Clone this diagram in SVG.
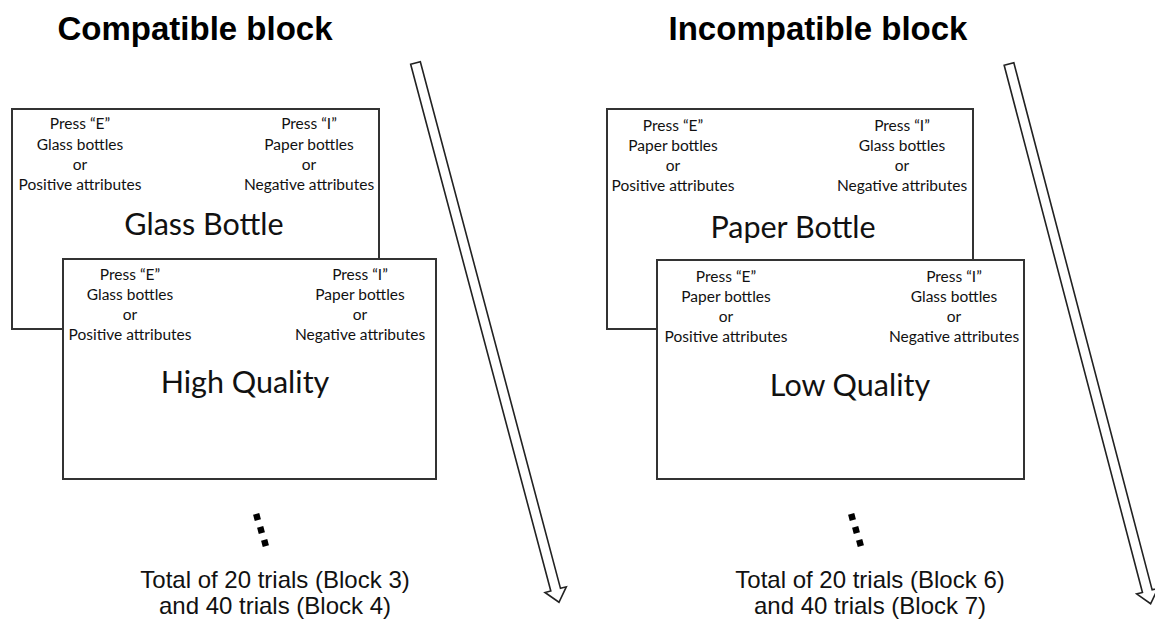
<svg xmlns="http://www.w3.org/2000/svg" width="1155" height="623" viewBox="0 0 1155 623">
  <style>
    .title { font-family: "Liberation Sans", Arial, sans-serif; font-weight: bold; font-size: 33px; fill: #000; text-anchor: middle; }
    .card { fill: #fff; stroke: #333; stroke-width: 2; }
    .key { font-family: "Lato", "Noto Sans", sans-serif; font-size: 15.5px; fill: #111; text-anchor: middle; }
    .stim { font-family: "Lato", "Noto Sans", sans-serif; font-size: 30.5px; fill: #111; text-anchor: middle; }
    .note { font-family: "Liberation Sans", Arial, sans-serif; font-size: 24px; fill: #111; text-anchor: middle; }
    .arrow { fill: #fff; stroke: #222; stroke-width: 1.6; stroke-linejoin: miter; }
    .dot { fill: #000; }
  </style>
  <defs>
    <!-- long hollow arrow pointing along +y -->
    <polygon id="timeArrow" points="-5,0 5,0 5,545 11,545 0,558 -11,545 -5,545"/>
    <rect id="dot" x="-3.2" y="-3.2" width="6.4" height="6.4"/>
  </defs>

  <rect width="1155" height="623" fill="#fff"/>

  <!-- Compatible block -->
  <g id="compatible">
    <text class="title" x="195" y="40">Compatible block</text>

    <g id="card-glass-bottle">
      <rect class="card" x="12" y="109" width="367" height="220"/>
      <text class="key" x="80" y="129">Press “E”</text>
      <text class="key" x="80" y="150">Glass bottles</text>
      <text class="key" x="80" y="170">or</text>
      <text class="key" x="80" y="190">Positive attributes</text>
      <text class="key" x="309" y="129">Press “I”</text>
      <text class="key" x="309" y="150">Paper bottles</text>
      <text class="key" x="309" y="170">or</text>
      <text class="key" x="309" y="190">Negative attributes</text>
      <text class="stim" x="204" y="235">Glass Bottle</text>
    </g>

    <g id="card-high-quality">
      <rect class="card" x="63" y="259" width="373" height="220"/>
      <text class="key" x="130" y="280">Press “E”</text>
      <text class="key" x="130" y="300">Glass bottles</text>
      <text class="key" x="130" y="320">or</text>
      <text class="key" x="130" y="340">Positive attributes</text>
      <text class="key" x="360" y="280">Press “I”</text>
      <text class="key" x="360" y="300">Paper bottles</text>
      <text class="key" x="360" y="320">or</text>
      <text class="key" x="360" y="340">Negative attributes</text>
      <text class="stim" x="245" y="393">High Quality</text>
    </g>

    <g id="ellipsis-left">
      <use href="#dot" class="dot" transform="translate(257,517) rotate(-15)"/>
      <use href="#dot" class="dot" transform="translate(261,530) rotate(-15)"/>
      <use href="#dot" class="dot" transform="translate(265,543) rotate(-15)"/>
    </g>

    <g id="summary-left">
      <text class="note" x="275" y="588">Total of 20 trials (Block 3)</text>
      <text class="note" x="275" y="614">and 40 trials (Block 4)</text>
    </g>
  </g>

  <!-- Incompatible block -->
  <g id="incompatible">
    <text class="title" x="818" y="40">Incompatible block</text>

    <g id="card-paper-bottle">
      <rect class="card" x="607" y="109" width="366" height="220"/>
      <text class="key" x="673" y="131">Press “E”</text>
      <text class="key" x="673" y="151">Paper bottles</text>
      <text class="key" x="673" y="171">or</text>
      <text class="key" x="673" y="191">Positive attributes</text>
      <text class="key" x="902" y="131">Press “I”</text>
      <text class="key" x="902" y="151">Glass bottles</text>
      <text class="key" x="902" y="171">or</text>
      <text class="key" x="902" y="191">Negative attributes</text>
      <text class="stim" x="793" y="238">Paper Bottle</text>
    </g>

    <g id="card-low-quality">
      <rect class="card" x="657" y="260" width="367" height="219"/>
      <text class="key" x="726" y="282">Press “E”</text>
      <text class="key" x="726" y="302">Paper bottles</text>
      <text class="key" x="726" y="322">or</text>
      <text class="key" x="726" y="342">Positive attributes</text>
      <text class="key" x="954" y="282">Press “I”</text>
      <text class="key" x="954" y="302">Glass bottles</text>
      <text class="key" x="954" y="322">or</text>
      <text class="key" x="954" y="342">Negative attributes</text>
      <text class="stim" x="850" y="396">Low Quality</text>
    </g>

    <g id="ellipsis-right">
      <use href="#dot" class="dot" transform="translate(852,517) rotate(-15)"/>
      <use href="#dot" class="dot" transform="translate(856,530) rotate(-15)"/>
      <use href="#dot" class="dot" transform="translate(860,543) rotate(-15)"/>
    </g>

    <g id="summary-right">
      <text class="note" x="870" y="588">Total of 20 trials (Block 6)</text>
      <text class="note" x="870" y="614">and 40 trials (Block 7)</text>
    </g>
  </g>

  <!-- time-course arrows -->
  <g id="connectors">
    <use href="#timeArrow" class="arrow" transform="translate(415.5,63) rotate(-14.9)"/>
    <use href="#timeArrow" class="arrow" transform="translate(1009,64) rotate(-14.7)"/>
  </g>
</svg>
